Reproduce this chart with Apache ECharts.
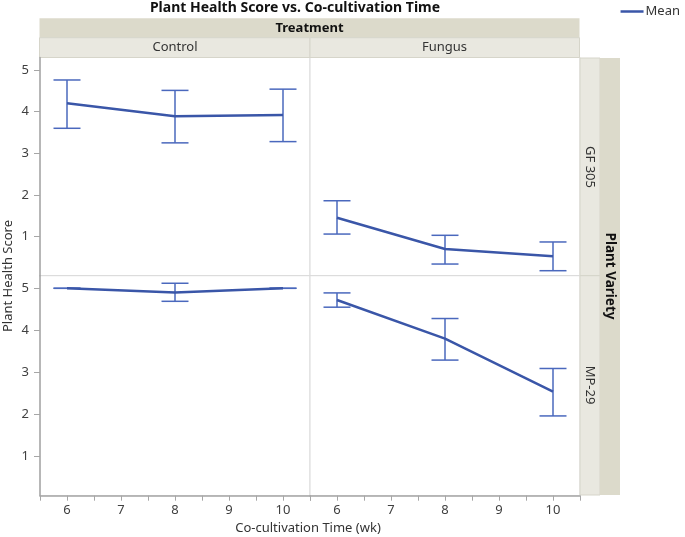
<!DOCTYPE html>
<html>
<head>
<meta charset="utf-8">
<script src="https://cdn.jsdelivr.net/npm/echarts@6/dist/echarts.min.js"></script>
<style>
  html, body { margin: 0; padding: 0; background: #fff; }
  #chart { width: 685px; height: 537px; }
</style>
</head>
<body>
<div id="chart"></div>
<script>
// data
const weeks = [6, 8, 10];
const treatments = ["Control", "Fungus"];
const varieties = ["GF 305", "MP-29"];
const yTicks = [1, 2, 3, 4, 5];

const meanGfControl = [4.2, 3.89, 3.92];
const lowGfControl = [3.6, 3.25, 3.28];
const highGfControl = [4.76, 4.51, 4.54];

const meanGfFungus = [1.45, 0.7, 0.53];
const lowGfFungus = [1.06, 0.34, 0.18];
const highGfFungus = [1.86, 1.03, 0.87];

const meanMpControl = [5.0, 4.9, 5.0];
const lowMpControl = [5.0, 4.69, 5.0];
const highMpControl = [5.0, 5.12, 5.0];

const meanMpFungus = [4.72, 3.8, 2.54];
const lowMpFungus = [4.55, 3.29, 1.96];
const highMpFungus = [4.89, 4.28, 3.09];

const panels = [
  { row: 0, col: 0, mean: meanGfControl, low: lowGfControl, high: highGfControl },
  { row: 0, col: 1, mean: meanGfFungus, low: lowGfFungus, high: highGfFungus },
  { row: 1, col: 0, mean: meanMpControl, low: lowMpControl, high: highMpControl },
  { row: 1, col: 1, mean: meanMpFungus, low: lowMpFungus, high: highMpFungus },
];

const FONT = "Noto Sans";
const lineColor = "#3a56a8";
const barColor = "#4a68bd";
const stripDark = "#dcdacb";
const stripLight = "#e9e8e0";
const axisGray = "#a6a6a6";

const colLeft = [40, 310];
const rowTop = [57.5, 275.7];
const rowHeight = [218.2, 220];

const grids = [], xAxes = [], yAxes = [], series = [];

panels.forEach((p, i) => {
  grids.push({
    left: colLeft[p.col],
    top: rowTop[p.row],
    width: 270,
    height: rowHeight[p.row],
    show: true,
    borderColor: "#dadada",
    borderWidth: 1,
    backgroundColor: "#fff",
  });
  xAxes.push({
    gridIndex: i,
    type: "value",
    min: 5.5,
    max: 10.5,
    interval: 0.5,
    splitLine: { show: false },
    axisLine: { show: p.row === 1, lineStyle: { color: axisGray, width: 1.5 } },
    axisTick: { show: p.row === 1, length: 5, lineStyle: { color: axisGray } },
    axisLabel: {
      show: p.row === 1,
      color: "#404040",
      fontFamily: FONT,
      fontSize: 13,
      margin: 8,
      formatter: (v) => (Number.isInteger(v) ? String(v) : ""),
    },
  });
  yAxes.push({
    gridIndex: i,
    type: "value",
    min: 0.06,
    max: 5.3,
    splitLine: { show: false },
    axisLine: { show: p.col === 0, lineStyle: { color: axisGray, width: 1.5 } },
    axisTick: {
      show: p.col === 0,
      length: 6,
      customValues: yTicks,
      lineStyle: { color: axisGray },
    },
    axisLabel: {
      show: p.col === 0,
      customValues: yTicks,
      color: "#404040",
      fontFamily: FONT,
      fontSize: 13,
      margin: 11,
    },
  });
  series.push({
    type: "custom",
    xAxisIndex: i,
    yAxisIndex: i,
    data: weeks.map((w, k) => [w, p.low[k], p.high[k]]),
    renderItem: (params, api) => {
      const lo = api.coord([api.value(0), api.value(1)]);
      const hi = api.coord([api.value(0), api.value(2)]);
      const cap = 13.5;
      const style = { stroke: barColor, lineWidth: 1.5 };
      return {
        type: "group",
        children: [
          { type: "line", shape: { x1: lo[0], y1: lo[1], x2: hi[0], y2: hi[1] }, style },
          { type: "line", shape: { x1: hi[0] - cap, y1: hi[1], x2: hi[0] + cap, y2: hi[1] }, style },
          { type: "line", shape: { x1: lo[0] - cap, y1: lo[1], x2: lo[0] + cap, y2: lo[1] }, style },
        ],
      };
    },
    z: 2,
  });
  series.push({
    name: "Mean",
    type: "line",
    xAxisIndex: i,
    yAxisIndex: i,
    data: weeks.map((w, k) => [w, p.mean[k]]),
    symbol: "none",
    lineStyle: { color: lineColor, width: 2.5 },
    itemStyle: { color: lineColor },
    z: 3,
  });
});

// strips around the panels
const graphics = [
  { type: "rect", shape: { x: 39.5, y: 18.3, width: 540, height: 19.4 }, style: { fill: stripDark } },
  { type: "rect", shape: { x: 39.5, y: 37.7, width: 270.5, height: 19.8 }, style: { fill: stripLight, stroke: "#d6d5ca", lineWidth: 1 } },
  { type: "rect", shape: { x: 310, y: 37.7, width: 269.5, height: 19.8 }, style: { fill: stripLight, stroke: "#d6d5ca", lineWidth: 1 } },
  { type: "rect", shape: { x: 580, y: 58, width: 20, height: 217.7 }, style: { fill: stripLight, stroke: "#d6d5ca", lineWidth: 1 } },
  { type: "rect", shape: { x: 580, y: 275.7, width: 20, height: 219.3 }, style: { fill: stripLight, stroke: "#d6d5ca", lineWidth: 1 } },
  { type: "rect", shape: { x: 600, y: 58, width: 20, height: 437 }, style: { fill: stripDark } },
  { type: "text", x: 309.5, y: 28, style: { text: "Treatment", font: `bold 13px "${FONT}"`, fill: "#111", align: "center", verticalAlign: "middle" } },
  { type: "text", x: 175, y: 47.6, style: { text: treatments[0], font: `13px "${FONT}"`, fill: "#333", align: "center", verticalAlign: "middle" } },
  { type: "text", x: 444.5, y: 47.6, style: { text: treatments[1], font: `13px "${FONT}"`, fill: "#333", align: "center", verticalAlign: "middle" } },
  { type: "text", x: 590, y: 167, rotation: -Math.PI / 2, style: { text: varieties[0], font: `13px "${FONT}"`, fill: "#333", align: "center", verticalAlign: "middle" } },
  { type: "text", x: 590, y: 385, rotation: -Math.PI / 2, style: { text: varieties[1], font: `13px "${FONT}"`, fill: "#333", align: "center", verticalAlign: "middle" } },
  { type: "text", x: 610, y: 276, rotation: -Math.PI / 2, style: { text: "Plant Variety", font: `bold 13.5px "${FONT}"`, fill: "#111", align: "center", verticalAlign: "middle" } },
  { type: "text", x: 8, y: 276, rotation: Math.PI / 2, style: { text: "Plant Health Score", font: `13px "${FONT}"`, fill: "#333", align: "center", verticalAlign: "middle" } },
  { type: "text", x: 308, y: 528, style: { text: "Co-cultivation Time (wk)", font: `13px "${FONT}"`, fill: "#333", align: "center", verticalAlign: "middle" } },
  { type: "text", x: 295, y: 8, style: { text: "Plant Health Score vs. Co-cultivation Time", font: `bold 14px "${FONT}"`, fill: "#111", align: "center", verticalAlign: "middle" } },
];

const chart = echarts.init(document.getElementById("chart"));
chart.setOption({
  animation: false,
  legend: {
    data: ["Mean"],
    right: 0,
    top: 0,
    icon: "rect",
    itemWidth: 23,
    itemHeight: 2.5,
    itemGap: 3,
    textStyle: { fontFamily: FONT, fontSize: 13, color: "#333", padding: [0, 0, 0, -3] },
  },
  grid: grids,
  xAxis: xAxes,
  yAxis: yAxes,
  series: series,
  graphic: graphics,
});
</script>
</body>
</html>
